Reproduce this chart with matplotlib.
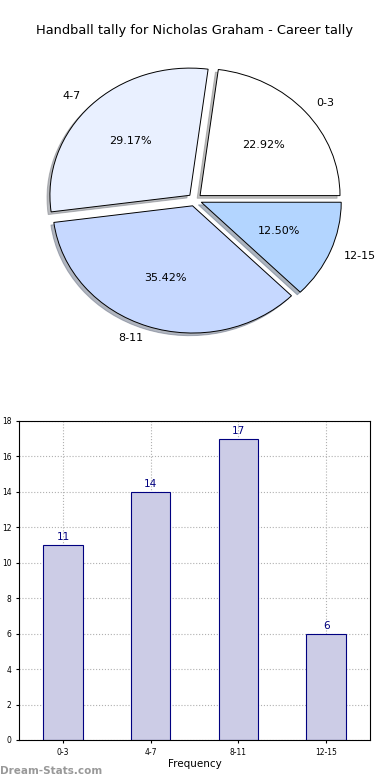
import numpy as np
import matplotlib
matplotlib.use("Agg")
import matplotlib.pyplot as plt

# Tally data
categories = ["0-3", "4-7", "8-11", "12-15"]
counts = [11, 14, 17, 6]
pie_colors = ["#ffffff", "#e9f0ff", "#c6d8ff", "#b3d5ff"]

fig = plt.figure(figsize=(3.9, 7.8), dpi=100)

# Pie chart (slightly squashed, like the reference)
ax1 = fig.add_axes([0.051, 0.540, 0.897, 0.4077])
wedges, texts, autotexts = ax1.pie(
    counts, labels=categories, colors=pie_colors, autopct="%1.2f%%",
    explode=[0.05] * len(counts), startangle=0,
    shadow={"ox": -0.015, "oy": -0.015, "shade": 0.5},
    wedgeprops=dict(edgecolor="black", linewidth=0.7),
    textprops=dict(fontsize=8))
ax1.set_aspect("auto")
ax1.set_xlim(-1.25, 1.25)
ax1.set_ylim(-1.25, 1.25)
fig.text(0.5, 0.961, "Handball tally for Nicholas Graham - Career tally",
         ha="center", va="center", fontsize=9.4)

# Bar chart
ax2 = fig.add_axes([0.049, 0.0513, 0.9, 0.409])
x = np.arange(len(categories))
bars = ax2.bar(x, counts, width=0.45, color="#cccce6", edgecolor="#000080",
               linewidth=0.8, zorder=2)
for xi, c in zip(x, counts):
    ax2.text(xi, c + 0.15, str(c), ha="center", va="bottom",
             fontsize=7.5, color="#000080")
ax2.set_xlim(-0.5, 3.5)
ax2.set_ylim(0, 18)
ax2.set_yticks(range(0, 19, 2))
ax2.set_xticks(x)
ax2.set_xticklabels(categories)
ax2.tick_params(labelsize=5.5, length=2)
ax2.grid(True, linestyle=":", color="#b0b0b0", linewidth=0.8, zorder=0)
ax2.set_xlabel("Frequency", fontsize=7.5, labelpad=2)
ax2.set_ylabel("Occurrences", fontsize=7.5, labelpad=2)

fig.text(0.0, 0.005, "Dream-Stats.com", fontsize=7.5, color="#999999",
         ha="left", va="bottom", fontweight="bold")

fig.savefig("out.png", dpi=100)
